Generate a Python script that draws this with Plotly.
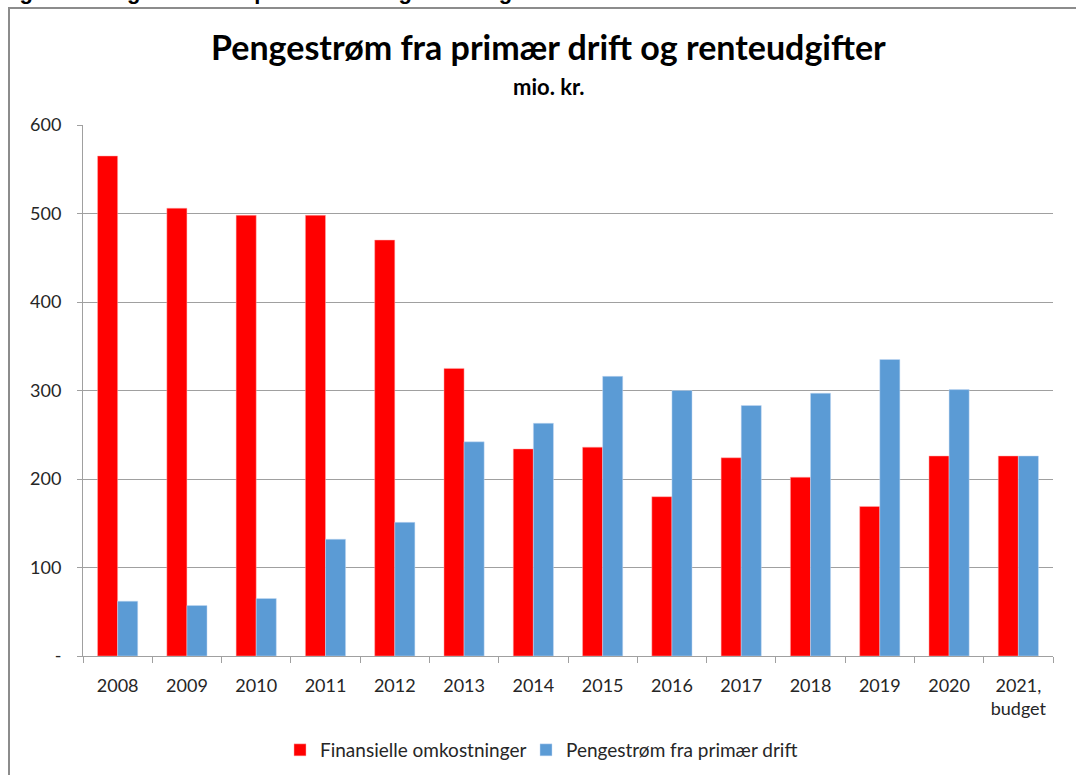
import plotly.graph_objects as go

categories = ["2008", "2009", "2010", "2011", "2012", "2013", "2014", "2015",
              "2016", "2017", "2018", "2019", "2020", "2021,<br>budget"]
finansielle = [565, 506, 498, 498, 470, 325, 234, 236, 180, 224, 202, 169, 226, 226]
pengestrom = [62, 57, 65, 132, 151, 242, 263, 316, 300, 283, 297, 335, 301, 226]
y_tickvals = [0, 100, 200, 300, 400, 500, 600]
y_ticktext = ["-", "100", "200", "300", "400", "500", "600"]

FONT = "Lato, Calibri, sans-serif"
W, H = 1076, 775
ML, MR, MT, MB = 83, 23, 125, 119
PW, PH = W - ML - MR, H - MT - MB

def px(x):
    return (x - ML) / PW

def py(y):
    return (H - MB - y) / PH

fig = go.Figure()
fig.add_trace(go.Bar(x=categories, y=finansielle, name="Finansielle omkostninger", legend="legend",
                     marker=dict(color="#ff0000", line=dict(color="rgba(255,180,180,0.6)", width=0.8))))
fig.add_trace(go.Bar(x=categories, y=pengestrom, name="Pengestrøm fra primær drift", legend="legend2",
                     marker=dict(color="#5b9bd5", line=dict(color="rgba(200,220,245,0.6)", width=0.8))))

legend_common = dict(orientation="h", xanchor="left", y=py(750), yanchor="middle",
                     font=dict(family=FONT, size=19, color="#262626"), itemwidth=30,
                     bgcolor="rgba(0,0,0,0)")

fig.update_layout(
    width=W, height=H,
    margin=dict(l=ML, r=MR, t=MT, b=MB, autoexpand=False),
    paper_bgcolor="white", plot_bgcolor="white",
    barmode="group", bargap=0.42, bargroupgap=0,
    font=dict(family=FONT, size=18, color="#262626"),
    showlegend=True,
    legend=dict(x=px(280), **legend_common),
    legend2=dict(x=px(526), **legend_common),
    xaxis=dict(type="category", showline=True, linecolor="#a0a0a0", linewidth=1,
               ticks="outside", ticklen=6, tickcolor="#a0a0a0", tickson="boundaries",
               ticklabelstandoff=13, showgrid=False,
               tickfont=dict(family=FONT, size=18, color="#262626")),
    yaxis=dict(range=[0, 600], tickvals=y_tickvals, ticktext=y_ticktext,
               showline=True, linecolor="#a0a0a0", linewidth=1,
               ticks="outside", ticklen=5, tickcolor="#a0a0a0",
               showgrid=True, gridcolor="#a0a0a0", gridwidth=1, zeroline=False,
               ticklabelstandoff=12,
               tickfont=dict(family=FONT, size=18, color="#262626")),
    annotations=[
        dict(text="<b>Pengestrøm fra primær drift og renteudgifter</b>", xref="paper", yref="paper",
             x=px(548), y=py(46), xanchor="center", yanchor="middle", showarrow=False,
             font=dict(family=FONT, size=34, color="black")),
        dict(text="<b>mio. kr.</b>", xref="paper", yref="paper",
             x=px(549), y=py(87), xanchor="center", yanchor="middle", showarrow=False,
             font=dict(family=FONT, size=22, color="black")),
        dict(text="<b>Figur 1: Pengestrøm fra primær drift og renteudgifter</b>", xref="paper", yref="paper",
             x=px(-2), y=py(6), xanchor="left", yanchor="bottom", showarrow=False,
             font=dict(family="Liberation Sans, Arial, sans-serif", size=22, color="black")),
    ],
    shapes=[
        dict(type="path", xref="paper", yref="paper",
             path=f"M {px(9)},{py(790)} L {px(9)},{py(8)} L {px(1090)},{py(8)}",
             line=dict(color="#8c8c8c", width=2)),
    ],
)

fig.write_html("out.html", config={"displayModeBar": False},
               post_script="document.body.style.margin='0';")
